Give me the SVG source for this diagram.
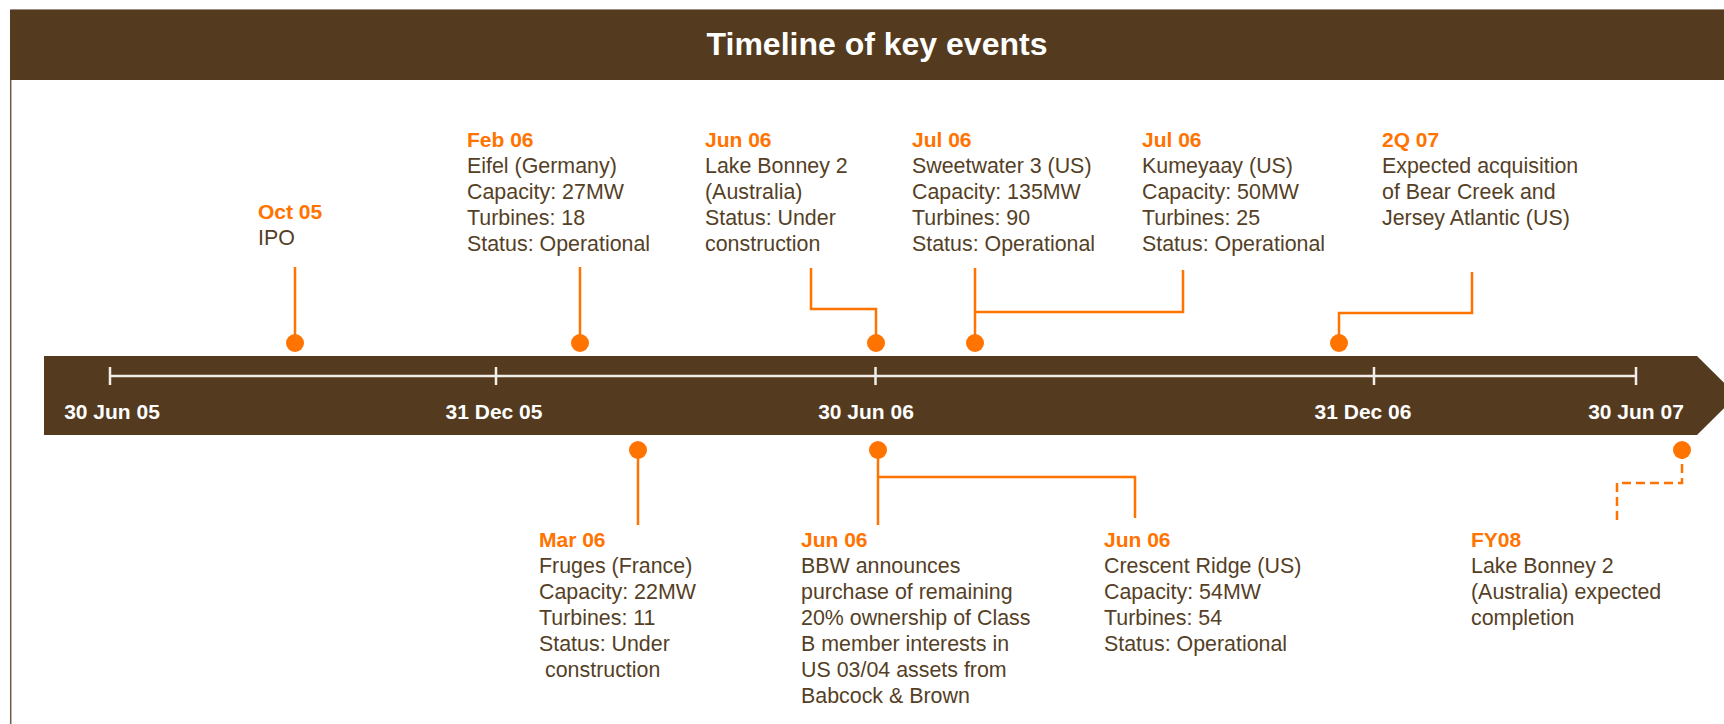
<svg xmlns="http://www.w3.org/2000/svg" width="1724" height="724" viewBox="0 0 1724 724">
<style>
.t{font-family:"Liberation Sans",Arial,sans-serif;font-size:21.4px;fill:#553F26}
.h{font-family:"Liberation Sans",Arial,sans-serif;font-size:21px;font-weight:bold;fill:#FF7300}
.ax{font-family:"Liberation Sans",Arial,sans-serif;font-size:21px;font-weight:bold;fill:#FFFFFF;text-anchor:middle}
.c{fill:none;stroke:#FF7300;stroke-width:2.5}
.d{fill:#FF7300}
</style>
<rect width="1724" height="724" fill="#FFFFFF"/>
<g id="frame">
<line x1="10.7" y1="80" x2="10.7" y2="724" stroke="#6E5C47" stroke-width="1.5"/>
<rect x="10" y="10" width="1714" height="70" fill="#543B1F"/>
<line x1="10" y1="9.5" x2="1724" y2="9.5" stroke="#9A8F83" stroke-width="1"/>
<text x="877" y="55" font-family="Liberation Sans,Arial,sans-serif" font-size="32" font-weight="bold" fill="#FFFFFF" text-anchor="middle">Timeline of key events</text>
</g>
<g id="timeline">
<polygon points="44,356 1697,356 1737,395.5 1697,435 44,435" fill="#543B1F"/>
<g stroke="#F2EEE9" stroke-width="2.5">
<line x1="110" y1="376" x2="1636" y2="376"/>
<line x1="110" y1="367" x2="110" y2="385"/>
<line x1="496" y1="367" x2="496" y2="385"/>
<line x1="875.5" y1="367" x2="875.5" y2="385"/>
<line x1="1374" y1="367" x2="1374" y2="385"/>
<line x1="1636" y1="367" x2="1636" y2="385"/>
</g>
<text class="ax" x="112" y="419">30 Jun 05</text>
<text class="ax" x="494" y="419">31 Dec 05</text>
<text class="ax" x="866" y="419">30 Jun 06</text>
<text class="ax" x="1363" y="419">31 Dec 06</text>
<text class="ax" x="1636" y="419">30 Jun 07</text>
</g>
<g id="connectors">
<path class="c" d="M295 267V343"/>
<path class="c" d="M580 267V343"/>
<path class="c" d="M811 268V309H876V343"/>
<path class="c" d="M975 268V343"/>
<path class="c" d="M1183 270V312H975"/>
<path class="c" d="M1472 272V313H1339V343"/>
<path class="c" d="M638 450V525"/>
<path class="c" d="M878 450V525"/>
<path class="c" d="M878 477H1135V518"/>
<path class="c" d="M1682 450V483H1617V523" stroke-dasharray="9,5"/>
</g>
<g id="dots">
<circle class="d" cx="295" cy="343" r="9"/>
<circle class="d" cx="580" cy="343" r="9"/>
<circle class="d" cx="876" cy="343" r="9"/>
<circle class="d" cx="975" cy="343" r="9"/>
<circle class="d" cx="1339" cy="343" r="9"/>
<circle class="d" cx="638" cy="450" r="9"/>
<circle class="d" cx="878" cy="450" r="9"/>
<circle class="d" cx="1682" cy="450" r="9"/>
</g>
<g id="oct05">
<text class="h" x="258" y="219">Oct 05</text>
<text class="t" x="258" y="245">IPO</text>
</g>
<g id="feb06">
<text class="h" x="467" y="147">Feb 06</text>
<text class="t" x="467" y="173">Eifel (Germany)</text>
<text class="t" x="467" y="199">Capacity: 27MW</text>
<text class="t" x="467" y="225">Turbines: 18</text>
<text class="t" x="467" y="251">Status: Operational</text>
</g>
<g id="jun06a">
<text class="h" x="705" y="147">Jun 06</text>
<text class="t" x="705" y="173">Lake Bonney 2</text>
<text class="t" x="705" y="199">(Australia)</text>
<text class="t" x="705" y="225">Status: Under</text>
<text class="t" x="705" y="251">construction</text>
</g>
<g id="jul06a">
<text class="h" x="912" y="147">Jul 06</text>
<text class="t" x="912" y="173">Sweetwater 3 (US)</text>
<text class="t" x="912" y="199">Capacity: 135MW</text>
<text class="t" x="912" y="225">Turbines: 90</text>
<text class="t" x="912" y="251">Status: Operational</text>
</g>
<g id="jul06b">
<text class="h" x="1142" y="147">Jul 06</text>
<text class="t" x="1142" y="173">Kumeyaay (US)</text>
<text class="t" x="1142" y="199">Capacity: 50MW</text>
<text class="t" x="1142" y="225">Turbines: 25</text>
<text class="t" x="1142" y="251">Status: Operational</text>
</g>
<g id="q207">
<text class="h" x="1382" y="147">2Q 07</text>
<text class="t" x="1382" y="173">Expected acquisition</text>
<text class="t" x="1382" y="199">of Bear Creek and</text>
<text class="t" x="1382" y="225">Jersey Atlantic (US)</text>
</g>
<g id="mar06">
<text class="h" x="539" y="547">Mar 06</text>
<text class="t" x="539" y="573">Fruges (France)</text>
<text class="t" x="539" y="599">Capacity: 22MW</text>
<text class="t" x="539" y="625">Turbines: 11</text>
<text class="t" x="539" y="651">Status: Under</text>
<text class="t" x="545" y="677">construction</text>
</g>
<g id="jun06b">
<text class="h" x="801" y="547">Jun 06</text>
<text class="t" x="801" y="573">BBW announces</text>
<text class="t" x="801" y="599">purchase of remaining</text>
<text class="t" x="801" y="625">20% ownership of Class</text>
<text class="t" x="801" y="651">B member interests in</text>
<text class="t" x="801" y="677">US 03/04 assets from</text>
<text class="t" x="801" y="703">Babcock &amp; Brown</text>
</g>
<g id="jun06c">
<text class="h" x="1104" y="547">Jun 06</text>
<text class="t" x="1104" y="573">Crescent Ridge (US)</text>
<text class="t" x="1104" y="599">Capacity: 54MW</text>
<text class="t" x="1104" y="625">Turbines: 54</text>
<text class="t" x="1104" y="651">Status: Operational</text>
</g>
<g id="fy08">
<text class="h" x="1471" y="547">FY08</text>
<text class="t" x="1471" y="573">Lake Bonney 2</text>
<text class="t" x="1471" y="599">(Australia) expected</text>
<text class="t" x="1471" y="625">completion</text>
</g>
</svg>
